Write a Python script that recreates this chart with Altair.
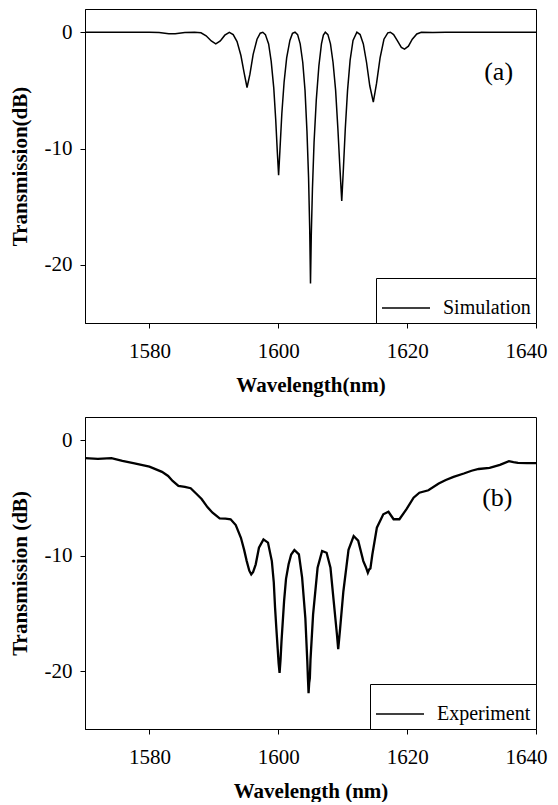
import altair as alt
import pandas as pd

# ---- data ----
sim_wl = [1570.0, 1575.0, 1580.0, 1581.5, 1583.0, 1584.0, 1585.5, 1587.0, 1588.0, 1588.8,
          1589.6, 1590.3, 1591.0, 1591.7, 1592.4, 1593.0, 1593.6, 1594.2, 1594.7, 1595.15,
          1595.6, 1596.1, 1596.7, 1597.2, 1597.6, 1598.0, 1598.5, 1598.9, 1599.3, 1599.6,
          1599.85, 1600.05, 1600.25, 1600.55, 1600.9, 1601.3, 1601.8, 1602.2, 1602.6, 1603.0,
          1603.4, 1603.8, 1604.15, 1604.45, 1604.7, 1604.88, 1605.0, 1605.12, 1605.3, 1605.55,
          1605.9, 1606.3, 1606.7, 1607.0, 1607.3, 1607.7, 1608.1, 1608.5, 1608.9, 1609.25,
          1609.55, 1609.85, 1610.1, 1610.4, 1610.75, 1611.15, 1611.6, 1612.2, 1612.7, 1613.2,
          1613.7, 1614.2, 1614.75, 1615.25, 1615.8, 1616.4, 1617.0, 1617.4, 1617.9, 1618.5,
          1619.1, 1619.6, 1620.2, 1620.8, 1621.5, 1622.2, 1624.0, 1626.0, 1630.0, 1640.0]
sim_db = [0, 0, 0, -0.03, -0.12, -0.12, -0.03, 0, -0.05, -0.3,
          -0.75, -1.0, -0.75, -0.25, 0, -0.2, -0.8, -2.0, -3.5, -4.75,
          -3.6, -1.9, -0.6, -0.08, 0, -0.2, -1.0, -2.5, -4.8, -7.5,
          -10.3, -12.3, -10.2, -7.0, -4.3, -2.2, -0.7, -0.1, 0, -0.2,
          -1.0, -2.6, -5.0, -8.5, -12.5, -17.0, -21.6, -17.5, -13.5, -9.5,
          -5.8, -2.9, -1.0, -0.25, 0, -0.2, -1.0, -2.6, -5.0, -8.3,
          -11.5, -14.5, -11.8, -8.3, -5.0, -2.4, -0.7, 0, -0.2, -1.0,
          -2.6, -4.6, -6.0, -4.4, -2.2, -0.6, -0.05, 0, -0.2, -0.75,
          -1.3, -1.45, -1.2, -0.6, -0.15, 0, -0.02, 0, 0, 0]

exp_wl = [1570.0, 1572.0, 1574.1, 1575.8, 1577.5, 1580.0, 1581.95, 1582.9, 1583.6, 1584.5,
          1585.5, 1586.4, 1587.2, 1588.1, 1589.0, 1589.8, 1590.9, 1591.8, 1592.6, 1593.4,
          1594.2, 1594.7, 1595.1, 1595.5, 1595.8, 1596.1, 1596.5, 1597.0, 1597.7, 1598.4,
          1599.0, 1599.3, 1599.5, 1599.7, 1599.9, 1600.05, 1600.2, 1600.35, 1600.5,
          1600.9, 1601.2, 1601.6, 1602.0, 1602.5, 1603.2, 1603.7, 1604.2, 1604.5, 1604.6,
          1604.7, 1604.8, 1604.9, 1605.0, 1605.4, 1606.1, 1606.8, 1607.5, 1608.1, 1608.6,
          1609.1, 1609.3, 1609.45, 1609.6, 1610.1, 1610.9, 1611.7, 1612.4, 1613.2,
          1613.6, 1613.9, 1614.1, 1614.3, 1614.6, 1615.3, 1616.3, 1617.1, 1617.9, 1618.8,
          1619.9, 1621.0, 1621.9, 1623.3, 1624.9, 1626.0, 1627.2, 1628.8, 1630.0, 1631.1,
          1632.8, 1634.4, 1635.8, 1636.5, 1637.2, 1638.6, 1640.0]
exp_db = [-1.56, -1.62, -1.56, -1.8, -2.0, -2.3, -2.75, -3.1, -3.53, -3.96,
          -4.05, -4.16, -4.6, -5.1, -5.8, -6.28, -6.77, -6.8, -6.85, -7.35,
          -8.45, -9.5, -10.47, -11.3, -11.62, -11.4, -10.75, -9.31, -8.59, -8.87,
          -10.47, -12.3, -14.5, -16.3, -18.0, -19.3, -20.15, -19.0, -17.4,
          -13.94, -12.0, -10.75, -9.9, -9.51, -9.89, -11.9, -15.4, -19.1, -20.6,
          -21.9, -21.0, -20.6, -19.0, -15.1, -11.05, -9.6, -9.75, -11.05, -13.94,
          -16.8, -18.1, -17.2, -16.3, -13.1, -9.5, -8.3, -8.7, -10.47,
          -11.0, -11.48, -11.2, -11.1, -9.9, -7.58, -6.42, -6.2, -6.85, -6.85,
          -5.98, -4.98, -4.55, -4.34, -3.76, -3.45, -3.18, -2.89, -2.65, -2.5,
          -2.4, -2.14, -1.82, -1.9, -1.97, -2.0, -2.0]

x_ticks = [1580, 1600, 1620, 1640]
y_ticks = [-20, -10, 0]
panel_labels = ["(a)", "(b)"]
label_wl = [1634.2, 1634.0]
label_db = [-3.4, -5.0]

SERIF = "Liberation Serif"


def panel(wl, db, name, letter, lx, ly, xtitle, ytitle, height, stroke):
    df = pd.DataFrame({"wl": wl, "db": db, "series": name})
    xs = alt.Scale(domain=[1570, 1640], nice=False, zero=False)
    ys = alt.Scale(domain=[-25, 2], nice=False, zero=False)
    line = alt.Chart(df).mark_line(strokeWidth=stroke, clip=True).encode(
        x=alt.X("wl:Q", scale=xs,
                axis=alt.Axis(values=x_ticks, title=xtitle, format="d",
                              labelFlush=True, labelFlushOffset=11)),
        y=alt.Y("db:Q", scale=ys,
                axis=alt.Axis(values=y_ticks, title=ytitle,
                              labelExpr="'' + datum.value")),
        color=alt.Color("series:N",
                        scale=alt.Scale(domain=[name], range=["black"]),
                        legend=alt.Legend(title=None, orient="bottom-right")),
    )
    lab = pd.DataFrame({"wl": [lx], "db": [ly], "t": [letter]})
    txt = alt.Chart(lab).mark_text(font=SERIF, fontSize=26, color="black").encode(
        x=alt.X("wl:Q", scale=xs), y=alt.Y("db:Q", scale=ys), text="t:N")
    return alt.layer(line, txt).properties(width=451, height=height)


top = panel(sim_wl, sim_db, "Simulation", panel_labels[0], label_wl[0], label_db[0],
            "Wavelength(nm)", "Transmission(dB)", 314, 1.5)
bot = panel(exp_wl, exp_db, "Experiment", panel_labels[1], label_wl[1], label_db[1],
            "Wavelength (nm)", "Transmission (dB)", 312, 2.3)

chart = alt.vconcat(top, bot, spacing=20).resolve_scale(
    color="independent").resolve_legend(color="independent").properties(
    padding=0, background="white"
).configure_view(stroke="black", strokeWidth=1).configure_axis(
    grid=False,
    domainColor="black",
    tickColor="black",
    tickSize=5,
    labelFont=SERIF,
    labelFontSize=21,
    labelColor="black",
    titleFont=SERIF,
    titleFontSize=21,
    titleFontWeight="bold",
    titleColor="black",
    labelOverlap=False,
    labelBound=False,
).configure_axisX(labelPadding=12, titlePadding=13).configure_axisY(
    labelPadding=8, titlePadding=14, labelFlush=False
).configure_legend(
    fillColor="white",
    strokeColor="black",
    strokeWidth=1,
    cornerRadius=0,
    padding=5,
    offset=0,
    symbolType="stroke",
    symbolSize=2304,
    symbolStrokeWidth=1.5,
    symbolStrokeColor="black",
    labelFont=SERIF,
    labelFontSize=20,
    labelColor="black",
    labelOffset=12,
)

chart.save("out.html", embed_options={"renderer": "svg", "actions": False})
